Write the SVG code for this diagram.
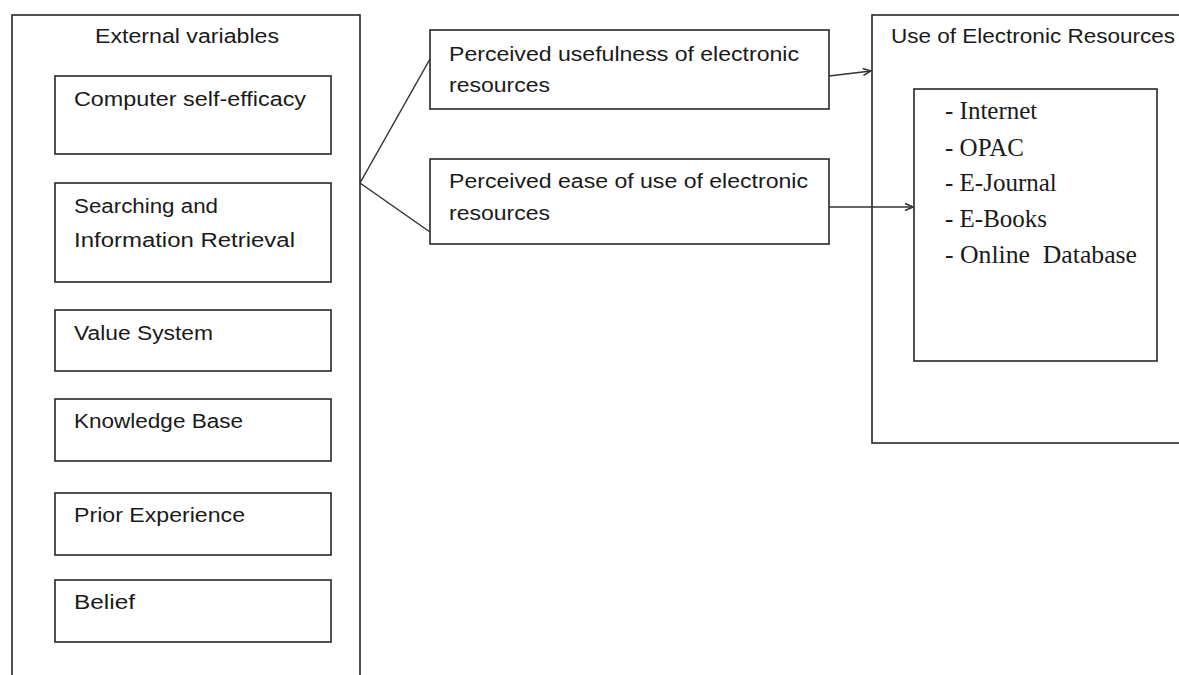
<svg xmlns="http://www.w3.org/2000/svg" width="1179" height="675" viewBox="0 0 1179 675">
<style>
.box{fill:#fff;stroke:#262626;stroke-width:1.6}
.t{font-family:"Liberation Sans",Arial,sans-serif;font-size:20px;fill:#1a1a1a}
.s{font-family:"Liberation Serif","Times New Roman",serif;font-size:25px;fill:#1a1a1a}
.c{fill:none;stroke:#333;stroke-width:1.5}
</style>
<defs>
<marker id="arr" markerWidth="10" markerHeight="10" refX="9" refY="5" orient="auto" markerUnits="userSpaceOnUse">
<path d="M1,1.5 L9,5 L1,8.5" fill="none" stroke="#333" stroke-width="1.5"/>
</marker>
</defs>
<rect width="1179" height="675" fill="#fff"/>
<g id="external">
<rect class="box" x="12" y="15" width="348" height="700"/>
<text class="t" x="95" y="43" textLength="184" lengthAdjust="spacingAndGlyphs">External variables</text>
</g>
<g id="n-self-efficacy">
<rect class="box" x="55" y="76" width="276" height="78"/>
<text class="t" x="74" y="106" textLength="232" lengthAdjust="spacingAndGlyphs">Computer self-efficacy</text>
</g>
<g id="n-searching">
<rect class="box" x="55" y="183" width="276" height="99"/>
<text class="t" x="74" y="213" textLength="144" lengthAdjust="spacingAndGlyphs">Searching and</text>
<text class="t" x="74" y="247" textLength="221" lengthAdjust="spacingAndGlyphs">Information Retrieval</text>
</g>
<g id="n-value">
<rect class="box" x="55" y="310" width="276" height="61"/>
<text class="t" x="74" y="340" textLength="139" lengthAdjust="spacingAndGlyphs">Value System</text>
</g>
<g id="n-knowledge">
<rect class="box" x="55" y="399" width="276" height="62"/>
<text class="t" x="74" y="428" textLength="169" lengthAdjust="spacingAndGlyphs">Knowledge Base</text>
</g>
<g id="n-prior">
<rect class="box" x="55" y="493" width="276" height="62"/>
<text class="t" x="74" y="522" textLength="171" lengthAdjust="spacingAndGlyphs">Prior Experience</text>
</g>
<g id="n-belief">
<rect class="box" x="55" y="580" width="276" height="62"/>
<text class="t" x="74" y="609" textLength="61" lengthAdjust="spacingAndGlyphs">Belief</text>
</g>
<g id="n-usefulness">
<rect class="box" x="430" y="30" width="399" height="79"/>
<text class="t" x="449" y="61" textLength="350" lengthAdjust="spacingAndGlyphs">Perceived usefulness of electronic</text>
<text class="t" x="449" y="92" textLength="101" lengthAdjust="spacingAndGlyphs">resources</text>
</g>
<g id="n-ease">
<rect class="box" x="430" y="159" width="399" height="85"/>
<text class="t" x="449" y="188" textLength="359" lengthAdjust="spacingAndGlyphs">Perceived ease of use of electronic</text>
<text class="t" x="449" y="220" textLength="101" lengthAdjust="spacingAndGlyphs">resources</text>
</g>
<g id="use">
<rect class="box" x="872" y="15" width="330" height="428"/>
<text class="t" x="891" y="43" textLength="284" lengthAdjust="spacingAndGlyphs">Use of Electronic Resources</text>
</g>
<g id="n-resources">
<rect class="box" x="914" y="89" width="243" height="272"/>
<text class="s" x="945" y="119">- Internet</text>
<text class="s" x="945" y="156">- OPAC</text>
<text class="s" x="945" y="191">- E-Journal</text>
<text class="s" x="945" y="227">- E-Books</text>
<text class="s" x="945" y="263" xml:space="preserve" textLength="192" lengthAdjust="spacingAndGlyphs">- Online  Database</text>
</g>
<g id="connectors">
<path class="c" d="M360,183 L430,59"/>
<path class="c" d="M360,183 L430,232"/>
<path class="c" d="M829,76 L871,71" marker-end="url(#arr)"/>
<path class="c" d="M829,207 L913,207" marker-end="url(#arr)"/>
</g>
</svg>
